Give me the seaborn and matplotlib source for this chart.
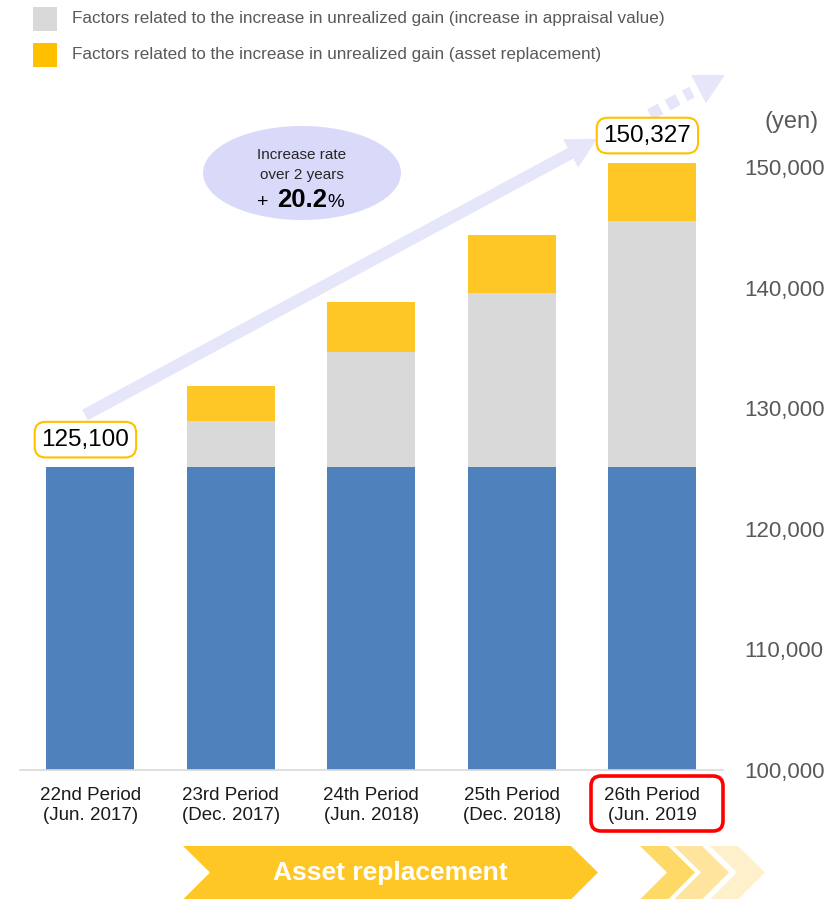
import numpy as np
import pandas as pd
import matplotlib
matplotlib.use("Agg")
import matplotlib.pyplot as plt
from matplotlib.patches import Rectangle, Ellipse, FancyArrow, Polygon, FancyBboxPatch
from matplotlib.ticker import FuncFormatter
import seaborn as sns

# ---- data -------------------------------------------------------------
periods = [
    "22nd Period\n(Jun. 2017)",
    "23rd Period\n(Dec. 2017)",
    "24th Period\n(Jun. 2018)",
    "25th Period\n(Dec. 2018)",
    "26th Period\n(Jun. 2019",
]
base_value = [125100, 125100, 125100, 125100, 125100]
appraisal_gain = [0, 3850, 9600, 14500, 20450]      # increase in appraisal value
replacement_gain = [0, 2900, 4100, 4800, 4777]      # asset replacement
y_ticks = [100000, 110000, 120000, 130000, 140000, 150000]
legend_labels = [
    "Factors related to the increase in unrealized gain (increase in appraisal value)",
    "Factors related to the increase in unrealized gain (asset replacement)",
]

BLUE = "#4F81BD"
GRAY = "#D9D9D9"
YELLOW = "#FFC726"
LEGEND_YELLOW = "#FFC000"
LAVENDER = "#E6E6FB"
ELLIPSE = "#D9D9FA"
TEXT_GRAY = "#595959"

sns.set_style("white")
plt.rcParams["font.family"] = ["Liberation Sans", "DejaVu Sans"]

W, H = 839, 899
fig = plt.figure(figsize=(W / 100, H / 100), dpi=100)

# overlay in pixel units for the callouts
deco = fig.add_axes([0, 0, 1, 1], zorder=0)
deco.set_xlim(0, W)
deco.set_ylim(H, 0)
deco.axis("off")

ax = fig.add_axes([20 / W, 129 / H, 702.5 / W, 663 / H], zorder=1)
ax.patch.set_visible(False)

df = pd.DataFrame({
    "period": periods,
    "base": base_value,
    "appraisal_top": np.add(base_value, appraisal_gain),
    "total": np.add(np.add(base_value, appraisal_gain), replacement_gain),
})

# stacked look: draw cumulative tops back to front
bar_kw = dict(data=df, x="period", saturation=1, width=0.626, ax=ax,
              edgecolor="none", linewidth=0)
sns.barplot(y="total", color=YELLOW, **bar_kw)
sns.barplot(y="appraisal_top", color=GRAY, **bar_kw)
sns.barplot(y="base", color=BLUE, **bar_kw)

ax.set_xlim(-0.5, len(periods) - 0.5)
ax.set_ylim(100000, 155000)
ax.set_xlabel("")
ax.set_ylabel("")
for side in ["left", "right", "top"]:
    ax.spines[side].set_visible(False)
ax.spines["bottom"].set_color("#D9D9D9")
ax.spines["bottom"].set_linewidth(1.2)

ax.yaxis.tick_right()
ax.set_yticks(y_ticks)
ax.yaxis.set_major_formatter(FuncFormatter(lambda v, _: f"{v:,.0f}"))
ax.tick_params(axis="y", length=0, pad=16, labelsize=16, labelcolor=TEXT_GRAY)
ax.tick_params(axis="x", length=0, pad=12)
for lab in ax.get_xticklabels():
    lab.set_fontsize(13.5)
    lab.set_color("#1A1A1A")
    lab.set_linespacing(1.22)
    lab.set_multialignment("center")

# value callouts on first and last bar
totals = df["total"].to_numpy()
for i in [0, len(totals) - 1]:
    ax.annotate(f"{totals[i]:,.0f}", xy=(i, totals[i]), xytext=(-3.5, 20),
                textcoords="offset points", ha="center", va="center",
                fontsize=17.5, color="black", zorder=5,
                bbox=dict(boxstyle="round,pad=0.28,rounding_size=0.45",
                          fc="white", ec=LEGEND_YELLOW, lw=1.5))

# growth arrow
x0, y0, x1, y1 = 85, 415, 597, 139
deco.add_patch(FancyArrow(x0, y0, x1 - x0, y1 - y0, width=12, head_width=32,
                          head_length=30, length_includes_head=True,
                          fc=LAVENDER, ec="none"))
d = np.array([640.0, -340.0]); d /= np.linalg.norm(d)
p = np.array([-d[1], d[0]])
deco.plot([650, 692], [114.5, 92], color=LAVENDER, lw=8.6,
          dashes=(1.0, 0.65), solid_capstyle="butt", dash_capstyle="butt")
tip = np.array([725.0, 75.0])
bc = tip - 30 * d
deco.add_patch(Polygon([tip, bc + 16 * p, bc - 16 * p], closed=True,
                       fc=LAVENDER, ec="none"))

# growth-rate bubble
rate = (totals[-1] / totals[0] - 1) * 100
deco.add_patch(Ellipse((302, 173), 198, 94, fc=ELLIPSE, ec="none"))
deco.text(302, 155, "Increase rate", ha="center", va="center", fontsize=11,
          color="#262626")
deco.text(302, 175, "over 2 years", ha="center", va="center", fontsize=11,
          color="#262626")
deco.text(263, 207, "+", ha="center", va="baseline", fontsize=14, color="black")
deco.text(302, 207, f"{rate:.1f}", ha="center", va="baseline", fontsize=18.5,
          fontweight="bold", color="black")
deco.text(327, 207, "%", ha="left", va="baseline", fontsize=13.5, color="black")

deco.text(792, 122, "(yen)", ha="center", va="center", fontsize=17,
          color=TEXT_GRAY)

# highlight current period
deco.add_patch(FancyBboxPatch((591, 776), 132, 55,
                              boxstyle="round,pad=0,rounding_size=10",
                              fc="none", ec="#FF0000", lw=2.6))

# asset replacement chevrons
top, mid, bot = 846, 872.5, 899.5
deco.add_patch(Polygon([(183, top), (571, top), (598, mid), (571, bot),
                        (183, bot), (210, mid)], closed=True, fc=YELLOW,
                       ec="none"))
deco.text(390, 873, "Asset replacement", ha="center", va="center",
          fontsize=19, fontweight="bold", color="white")
for xs, col in zip([640, 674, 710], ["#FFD966", "#FFE49E", "#FFF0CC"]):
    deco.add_patch(Polygon([(xs, top), (xs + 28, top), (xs + 55, mid),
                            (xs + 28, bot), (xs, bot), (xs + 27, mid)],
                           closed=True, fc=col, ec="none"))

# legend
for (label, col), yc in zip(zip(legend_labels, [GRAY, LEGEND_YELLOW]), [18.5, 55]):
    deco.add_patch(Rectangle((33, yc - 12), 24, 24, fc=col, ec="none"))
    deco.text(72, yc, label, ha="left", va="center", fontsize=12.3,
              color=TEXT_GRAY)

fig.savefig("out.png", dpi=100)
